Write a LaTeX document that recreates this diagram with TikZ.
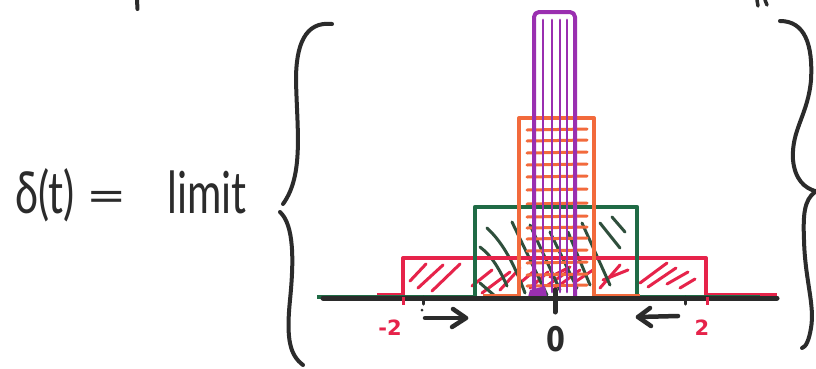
\documentclass[tikz,border=0pt]{standalone}
\usepackage{fontspec}
\usepackage{graphicx}
\newfontfamily\hand{Lato}
\newfontfamily\labfont{DejaVu Sans}
\definecolor{inkblack}{HTML}{2B2B2B}
\definecolor{pred}{HTML}{E6234A}
\definecolor{porange}{HTML}{F26A3C}
\definecolor{pgreen}{HTML}{1F6B45}
\definecolor{pgreenhatch}{HTML}{2F4F3C}
\definecolor{ppurple}{HTML}{9A2FB0}
\tikzset{
  ink/.style={draw=inkblack, line width=4pt, line cap=round, line join=round},
  redline/.style={draw=pred, line width=4pt, line join=round},
  greenline/.style={draw=pgreen, line width=4.5pt, line join=round},
  orangeline/.style={draw=porange, line width=4pt, line join=round},
  purpleline/.style={draw=ppurple, line width=4pt, line join=round, rounded corners=5pt},
  redhatch/.style={draw=pred, line width=3pt, line cap=round},
  greenhatch/.style={draw=pgreenhatch, line width=3pt, line cap=round},
  orangehatch/.style={draw=porange, line width=3pt, line cap=round},
  purplehatch/.style={draw=ppurple, line width=2.8pt, line cap=round},
  handtext/.style={font=\hand\fontsize{58}{58}\selectfont, inner sep=0pt, text=inkblack},
  redlabel/.style={font=\labfont\bfseries\fontsize{21}{21}\selectfont, inner sep=0pt, text=pred},
  zerolabel/.style={font=\labfont\bfseries\fontsize{34}{34}\selectfont, inner sep=0pt, text=inkblack}
}
\begin{document}
\begin{tikzpicture}[x=1pt,y=-1pt]
\useasboundingbox (0,0) rectangle (816,368);
\fill[white] (0,0) rectangle (816,368);

% cut-off strokes at the top edge
\draw[ink] (137,0) -- (137.5,9);
\draw[ink, line width=3.5pt] (757,0) -- (758,6) (765,0) -- (767,5);

% left-hand text
\node[handtext, anchor=base west] (delta) at (15,213) {\scalebox{0.72}[1]{δ(t)}};
\node[handtext, anchor=center] (eq) at (107,202) {\scalebox{1.2}[0.8]{=}};
\node[handtext, anchor=base west] (limit) at (167,213) {\scalebox{0.72}[1]{limit}};

% left brace
\draw[ink] (332,24) .. controls (305,21) and (296,45) .. (296,80)
           .. controls (297,130) and (304,175) .. (283,204);
\draw[ink] (280,212) .. controls (294,225) and (294,260) .. (290,300)
           .. controls (286,340) and (290,355) .. (303,365);
% right brace
\draw[ink] (780,21) .. controls (805,21) and (813,45) .. (811,80)
           .. controls (808,115) and (791,130) .. (793,160)
           .. controls (795,180) and (805,188) .. (815,191);
\draw[ink] (815,192) .. controls (804,200) and (803,215) .. (804,240)
           .. controls (805,280) and (815,305) .. (811,328)
           .. controls (809,340) and (806,347) .. (802,348);

% ---- hatchings ----
% red
\foreach \a/\b/\c/\d in {410/281/426/264, 418/288/443/265, 432/291/460/264,
  472/286/492/270, 482/293/510/272, 500/290/520/268,
  520/283/533/272, 530/288/548/272, 548/285/567/272, 550/277/570/267,
  553/290/580/270, 575/282/593/270, 600/288/620/265, 603/280/628/270,
  640/283/667/263, 648/287/676/268, 667/284/688/272, 680/288/695/279}
  \draw[redhatch] (\a,\b) -- (\c,\d);
% green
\draw[greenhatch] (487,228) .. controls (500,240) and (512,258) .. (525,293);
\draw[greenhatch] (512,222) -- (547,295);
\draw[greenhatch] (480,247) .. controls (492,256) and (500,270) .. (507,286);
\draw[greenhatch] (480,283) -- (495,296);
\draw[greenhatch] (550,232) -- (577,288);
\draw[greenhatch] (568,232) -- (590,285);
\draw[greenhatch] (582,223) -- (610,285);
\draw[greenhatch] (600,223) -- (620,248);
\draw[greenhatch] (612,217) -- (625,232);
\draw[greenhatch] (530,225) -- (560,290);
% orange
\foreach \y in {130,141,153,165,177,190,204,217,228,239,251,263,275,286}
  \draw[orangehatch] (527,\y) -- (587,\y-1);

% ---- pulse outlines ----
\draw[redline] (377,295) -- (403,295) -- (403,258) -- (706,258) -- (706,295) -- (777,295);
\draw[greenline] (317,297) -- (475,297) -- (475,207) -- (637,207) -- (637,297) -- (760,297);
\draw[orangeline] (483,296) -- (519,296) -- (519,118) -- (594,118) -- (594,296) -- (640,296);
% purple
\foreach \x in {543,552,560,567}
  \draw[purplehatch] (\x,20) -- (\x,292);
\draw[purpleline] (534,297) -- (534,12) -- (575,12) -- (575,297);
\fill[ppurple] (530,290) -- (545,286) -- (547,297) -- (528,297) -- cycle;

% ---- axis ----
\coordinate (axl) at (323,298);
\coordinate (axr) at (777,298);
\draw[ink, line width=5pt] (axl) -- (axr);
\draw[ink, line width=5pt] (555,290) -- (555,312);
\draw[draw=pred, line width=3pt] (403,297) -- (403,305);
\draw[draw=pred, line width=3pt] (707,297) -- (707,305);
\draw[ink, line width=3pt] (423,297) -- (423,304);
\draw[ink, line width=3pt] (685,297) -- (685,304);
\fill[inkblack] (422,310) circle (1.5);

% arrows
\coordinate (ra1) at (425,318);
\coordinate (ra2) at (466,318);
\draw[ink, line width=4.5pt] (ra1) -- (ra2);
\draw[ink, line width=4.5pt] (453,309) -- (ra2) -- (452,327);
\coordinate (la1) at (678,316);
\coordinate (la2) at (638,317);
\draw[ink, line width=4.5pt] (la1) -- (la2);
\draw[ink, line width=4.5pt] (650,308) -- (la2) -- (651,326);

% labels
\node[redlabel] (m2) at (390,328) {-2};
\node[redlabel] (p2) at (702,328) {2};
\node[zerolabel] (zero) at (556,339) {\scalebox{0.8}[1]{0}};
\end{tikzpicture}
\end{document}
